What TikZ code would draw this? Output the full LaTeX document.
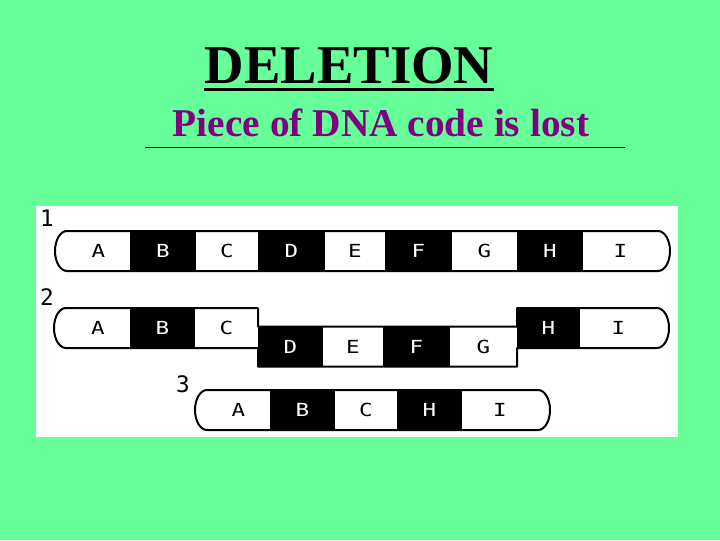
\documentclass[tikz,border=0pt]{standalone}
\usepackage{fontspec}
\usepackage{tikz}
\newfontfamily\titlefont{Liberation Serif}
\newfontfamily\dnafont[FakeStretch=1.25]{DejaVu Sans Mono}
\newfontfamily\numfont{DejaVu Sans Mono}
\definecolor{bggreen}{HTML}{66FF99}
\definecolor{subpurple}{HTML}{800080}

\begin{document}
\begin{tikzpicture}[x=0.75pt, y=-0.75pt,
    seg/.style={minimum height=30pt, inner sep=0pt, outer sep=0pt,
      font=\dnafont\fontsize{13.5}{13.5}\selectfont},
    wseg/.style={seg, fill=white, text=black},
    bseg/.style={seg, fill=black, text=white},
    strand/.style={line width=1.5pt, line join=round},
    num/.style={inner sep=0pt, font=\numfont\fontsize{17}{17}\selectfont}]
  \fill[bggreen] (0,0) rectangle (720,540);
  \fill[white] (36,206) rectangle (678,437);

  % heading
  \node[inner sep=0pt, anchor=base, font=\titlefont\bfseries\fontsize{41}{41}\selectfont] (title) at (349,83) {DELETION};
  \draw[line width=2.25pt] ([yshift=-4.5pt]title.base west) -- ([yshift=-4.5pt]title.base east);
  \node[inner sep=0pt, anchor=base, text=subpurple, font=\titlefont\bfseries\fontsize{29.5}{29.5}\selectfont] (sub) at (381,136) {Piece of DNA code is lost};
  \coordinate (ruleL) at (145,147);
  \coordinate (ruleR) at (625,147);
  \draw[line width=0.75pt] (ruleL) -- (ruleR);

  % 1: whole strand
  \node[num] (n1) at (47,218) {1};
  \foreach \n/\s/\x/\w in {A/wseg/98.5/63, B/bseg/163/66, C/wseg/227/62, D/bseg/291.5/67, E/wseg/355/60,
      F/bseg/418.5/67, G/wseg/484.5/65, H/bseg/550/66, I/wseg/620.5/75}
    \node[\s, minimum width=\w*0.75pt] (r1\n) at (\x,251) {\n};
  \draw[strand] (r1A.north west) arc[start angle=90, end angle=270, x radius=9pt, y radius=15pt]
    -- (r1I.south east) arc[start angle=-90, end angle=90, x radius=9pt, y radius=15pt] -- cycle;

  % 2: D to G drops out
  \node[num] (n2) at (47,297) {2};
  \foreach \n/\s/\x/\w in {A/wseg/98/64, B/bseg/162.5/65, C/wseg/226.5/63, H/bseg/548.5/63, I/wseg/618.5/77}
    \node[\s, minimum width=\w*0.75pt] (r2\n) at (\x,328) {\n};
  \foreach \n/\s/\x/\w in {D/bseg/290.5/65, E/wseg/353/60, F/bseg/416.5/67, G/wseg/483.5/67}
    \node[\s, minimum width=\w*0.75pt] (r2\n) at (\x,346.5) {\n};
  \draw[strand] (r2A.north west) arc[start angle=90, end angle=270, x radius=9pt, y radius=15pt]
    -- (r2C.south east) -- (r2D.south west) -- (r2G.south east) -- (r2H.south west)
    -- (r2I.south east) arc[start angle=-90, end angle=90, x radius=9pt, y radius=15pt]
    -- (r2H.north west) -- (r2G.north east) -- (r2D.north west) -- (r2C.north east) -- cycle;

  % 3: what is left
  \node[num] (n3) at (183,384) {3};
  \foreach \n/\s/\x/\w in {A/wseg/238.5/63, B/bseg/302.5/65, C/wseg/366/62, H/bseg/429.5/65, I/wseg/500/76}
    \node[\s, minimum width=\w*0.75pt] (r3\n) at (\x,410) {\n};
  \draw[strand] (r3A.north west) arc[start angle=90, end angle=270, x radius=9pt, y radius=15pt]
    -- (r3I.south east) arc[start angle=-90, end angle=90, x radius=9pt, y radius=15pt] -- cycle;
\end{tikzpicture}
\end{document}
